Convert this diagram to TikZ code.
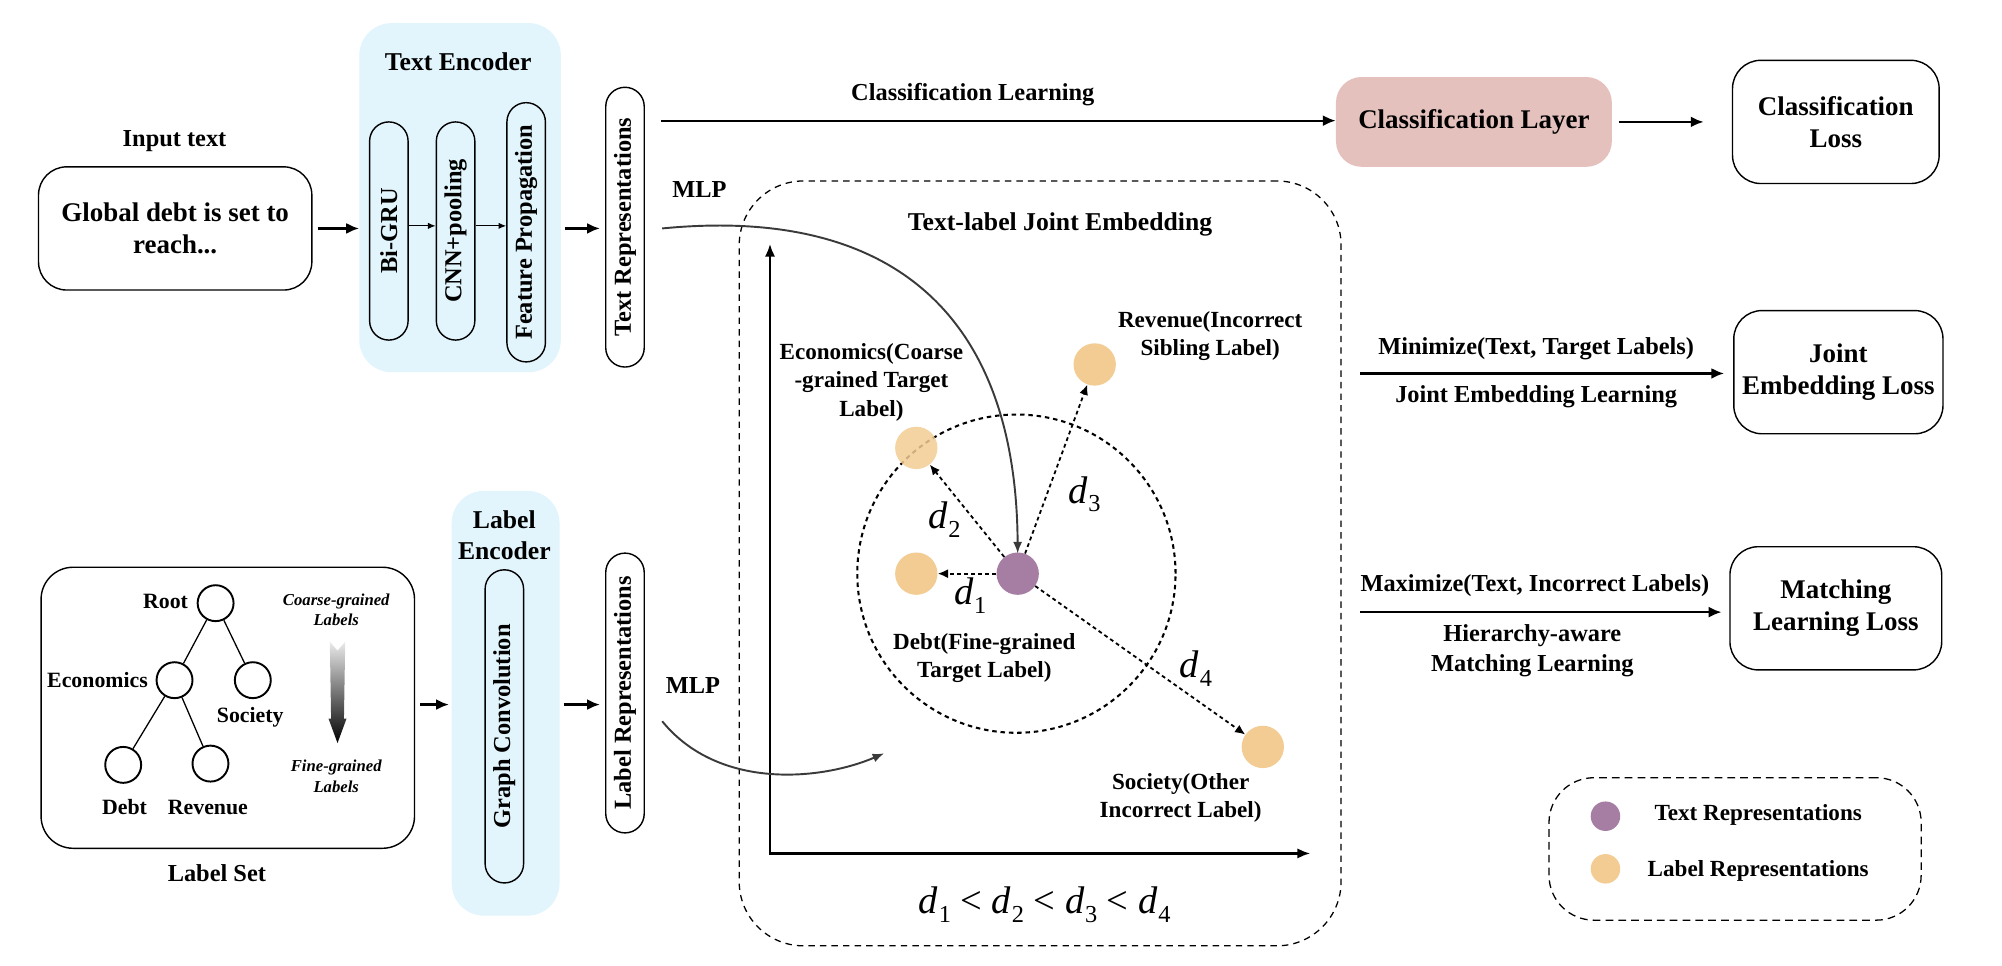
\documentclass[tikz,border=0pt]{standalone}
\usepackage{fontspec}
\setmainfont{Liberation Serif}
\usetikzlibrary{arrows.meta,calc}
\definecolor{encblue}{HTML}{E2F5FC}
\definecolor{clspink}{HTML}{E5C1BD}
\definecolor{txtpurple}{HTML}{A67EA3}
\definecolor{lblorange}{HTML}{F2CC93}
\definecolor{curvegray}{HTML}{3A3A3A}
\newcommand{\fs}[2]{\fontsize{#1pt}{#2pt}\selectfont\bfseries}
\newcommand{\dd}[1]{\textit{d}\kern0.5pt\raisebox{-0.22em}{\fontsize{19pt}{20pt}\selectfont #1}}
\begin{document}
\begin{tikzpicture}[x=1pt,y=-1pt,
  box/.style={draw, line width=1.1pt, rounded corners=22pt, align=center, font=\fs{21}{25}},
  encbg/.style={fill=encblue, rounded corners=25pt, inner sep=0pt},
  pill/.style={draw, line width=1.1pt, rounded corners=15pt, minimum height=30pt, inner sep=0pt, rotate=90, font=\fs{19}{22}},
  lbl/.style={font=\fs{19}{23}, align=center},
  lblin/.style={font=\fs{18}{22}, align=center},
  treec/.style={circle, draw, line width=1.5pt, minimum size=28pt, inner sep=0pt},
  treel/.style={font=\fs{17}{20}},
  pt/.style={circle, minimum size=33pt, inner sep=0pt},
  arr/.style={line width=1.7pt, -{Latex[length=10pt,width=8.5pt]}},
  sarr/.style={line width=0.9pt, -{Latex[length=6pt,width=5pt]}},
  darr/.style={line width=1.4pt, dash pattern=on 3pt off 2.5pt, -{Latex[length=8pt,width=7pt]}},
  curv/.style={line width=1.5pt, draw=curvegray, -{Latex[length=9pt,width=7pt]}},
  dmath/.style={font=\fontsize{30pt}{32pt}\selectfont}
]
\useasboundingbox (0,0) rectangle (1560,752.7);

% ---------- Input text ----------
\node[lbl] (inlbl) at (136,110) {Input text};
\node[box, minimum width=213pt, minimum height=96pt] (inbox) at (136.5,178) {Global debt is set to\\reach...};

% ---------- Text encoder ----------
\node[encbg, minimum width=157pt, minimum height=272pt] (tenc) at (358.5,154) {};
\node[font=\fs{20}{24}] (tenctitle) at (357,48) {Text Encoder};
\node[pill, minimum width=170pt] (bigru) at (303,180) {Bi-GRU};
\node[pill, minimum width=170pt] (cnn) at (355,180) {CNN+pooling};
\node[pill, minimum width=202pt] (fp) at (410,181) {Feature Propagation};
\draw[sarr] (bigru.south |- 0,176) -- (cnn.north |- 0,176);
\draw[sarr] (cnn.south |- 0,176) -- (fp.north |- 0,176);
\node[pill, minimum width=218pt] (trep) at (487,177) {Text Representations};

\draw[arr] ([xshift=4pt]inbox.east) -- (tenc.west |- inbox.east);
\draw[arr] ([xshift=3pt]tenc.east |- inbox.east) -- ([xshift=-4pt]trep.north |- inbox.east);

% ---------- Classification branch ----------
\node[fill=clspink, rounded corners=20pt, minimum width=215pt, minimum height=70pt, font=\fs{21}{25}] (clslayer) at (1148.5,95) {Classification Layer};
\node[box, minimum width=161pt, minimum height=96pt] (clsloss) at (1430.5,95) {Classification\\Loss};
\coordinate (clsstart) at (515,94);
\draw[arr] (clsstart) -- (clslayer.west |- clsstart);
\node[lbl] (clslbl) at (758,74) {Classification Learning};
\draw[arr] ([xshift=5pt]clslayer.east) -- ([xshift=-22pt]clsloss.west);

% ---------- Joint embedding loss ----------
\node[box, minimum width=163pt, minimum height=96pt] (jeloss) at (1432.5,290) {Joint\\Embedding Loss};
\coordinate (minstart) at (1060,291);
\draw[arr] (minstart) -- ([xshift=-7pt]jeloss.west |- minstart);
\node[lbl] (minlbl) at (1197,272) {Minimize(Text, Target Labels)};
\node[lbl] (jelbl) at (1197,309) {Joint Embedding Learning};

% ---------- Matching loss ----------
\node[box, minimum width=165pt, minimum height=96pt] (mlloss) at (1430.5,474) {Matching\\Learning Loss};
\coordinate (maxstart) at (1060,477);
\draw[arr] (maxstart) -- ([xshift=-6pt]mlloss.west |- maxstart);
\node[lbl] (maxlbl) at (1196,456) {Maximize(Text, Incorrect Labels)};
\node[lbl] (hmlbl) at (1194,507) {Hierarchy-aware\\Matching Learning};

% ---------- Legend ----------
\node[draw, line width=1pt, dash pattern=on 6pt off 4pt, rounded corners=35pt, minimum width=290pt, minimum height=111pt] (legend) at (1352,661.5) {};
\node[pt, minimum size=23pt, fill=txtpurple] (lgt) at (1251,636) {};
\node[font=\fs{18}{22}] (lgttxt) at (1370,635) {Text Representations};
\node[pt, minimum size=23pt, fill=lblorange] (lgl) at (1251,677) {};
\node[font=\fs{18}{22}] (lgltxt) at (1370,679) {Label Representations};

% ---------- Label set ----------
\node[box, rounded corners=25pt, minimum width=291pt, minimum height=219pt] (lset) at (177.5,551.5) {};
\node[lbl] (lsetlbl) at (169,680) {Label Set};
\node[treec] (troot) at (168,470) {};
\node[treec] (tecon) at (136,530) {};
\node[treec] (tsoc) at (197,530) {};
\node[treec] (tdebt) at (96,596) {};
\node[treec] (trev) at (164,595) {};
\draw[line width=1pt] (troot) -- (tecon);
\draw[line width=1pt] (troot) -- (tsoc);
\draw[line width=1pt] (tecon) -- (tdebt);
\draw[line width=1pt] (tecon) -- (trev);
\node[treel] (lroot) at (129,469) {Root};
\node[treel] (lecon) at (76,530) {Economics};
\node[treel] (lsoc) at (195,559) {Society};
\node[treel] (ldebt) at (97,629) {Debt};
\node[treel] (lrev) at (162,629) {Revenue};
\node[font=\fontsize{13pt}{16pt}\selectfont\bfseries\itshape, align=center] (coarse) at (262,475) {Coarse-grained\\Labels};
\node[font=\fontsize{13pt}{16pt}\selectfont\bfseries\itshape, align=center] (fine) at (262,605) {Fine-grained\\Labels};
\shade[top color=black!8, bottom color=black] (257,500) -- (263,507) -- (269,500) -- (268,560) -- (270,560) -- (263,579) -- (256,560) -- (258,560) -- cycle;

% ---------- Label encoder ----------
\node[encbg, minimum width=84pt, minimum height=331pt] (lenc) at (394,548) {};
\node[font=\fs{20}{24}, align=center] (lenctitle) at (393,417) {Label\\Encoder};
\node[pill, minimum width=244pt] (gconv) at (393,566) {Graph Convolution};
\node[pill, minimum width=218pt] (lrep) at (487,540) {Label Representations};
\draw[arr] ([xshift=4pt]lset.east |- 0,549) -- ([xshift=-2pt]lenc.west |- 0,549);
\draw[arr] ([xshift=3pt]lenc.east |- 0,549) -- ([xshift=-4pt]lrep.north |- 0,549);

% ---------- Joint embedding space ----------
\node[draw, line width=1pt, dash pattern=on 5pt off 4pt, rounded corners=50pt, minimum width=469pt, minimum height=596pt] (jbox) at (810.5,439) {};
\node[font=\fs{20}{24}] (jtitle) at (826,175) {Text-label Joint Embedding};
\coordinate (origin) at (600,665);
\coordinate (ytop) at (600,190);
\coordinate (xend) at (1021,665);
\draw[line width=1.8pt, {Latex[length=10pt,width=8pt]}-{Latex[length=10pt,width=8pt]}] (ytop) -- (origin) -- (xend);

\node[circle, draw, line width=1.6pt, dash pattern=on 3.5pt off 3pt, minimum size=248pt, inner sep=0pt] (bigc) at (792,447) {};

\node[pt, fill=lblorange, fill opacity=0.85] (econ) at (714,349) {};
\node[pt, fill=lblorange] (debt) at (714,447) {};
\node[pt, fill=txtpurple] (txt) at (793,447) {};
\node[pt, fill=lblorange] (rev) at (853,284) {};
\node[pt, fill=lblorange] (soc) at (984,582) {};

\draw[darr] (txt) -- (debt);
\draw[darr] (txt) -- (econ);
\draw[darr] (txt) -- (rev);
\draw[darr] (txt) -- (soc);

\node[dmath] (d1) at (756,464) {\dd{1}};
\node[dmath] (d2) at (736,405) {\dd{2}};
\node[dmath] (d3) at (845,385) {\dd{3}};
\node[dmath] (d4) at (932,521) {\dd{4}};

\node[lblin] (revlbl) at (943,262) {Revenue(Incorrect\\Sibling Label)};
\node[lblin] (econlbl) at (679,298) {Economics(Coarse\\-grained Target\\Label)};
\node[lblin] (debtlbl) at (767,513) {Debt(Fine-grained\\Target Label)};
\node[lblin] (soclbl) at (920,622) {Society(Other\\Incorrect Label)};

\node[dmath] (ineq) at (814,705) {\dd{1} < \dd{2} < \dd{3} < \dd{4}};

% ---------- MLP curves ----------
\node[lbl] (mlp1) at (545,148) {MLP};
\coordinate (mlp1s) at (516,178);
\draw[curv] (mlp1s) .. controls (700,160) and (792,250) .. ([yshift=-1pt]txt.north);
\node[lbl] (mlp2) at (540,534) {MLP};
\coordinate (mlp2s) at (516,562);
\coordinate (mlp2e) at (689,587);
\draw[curv] (mlp2s) .. controls (560,616) and (640,608) .. (mlp2e);
\end{tikzpicture}
\end{document}
